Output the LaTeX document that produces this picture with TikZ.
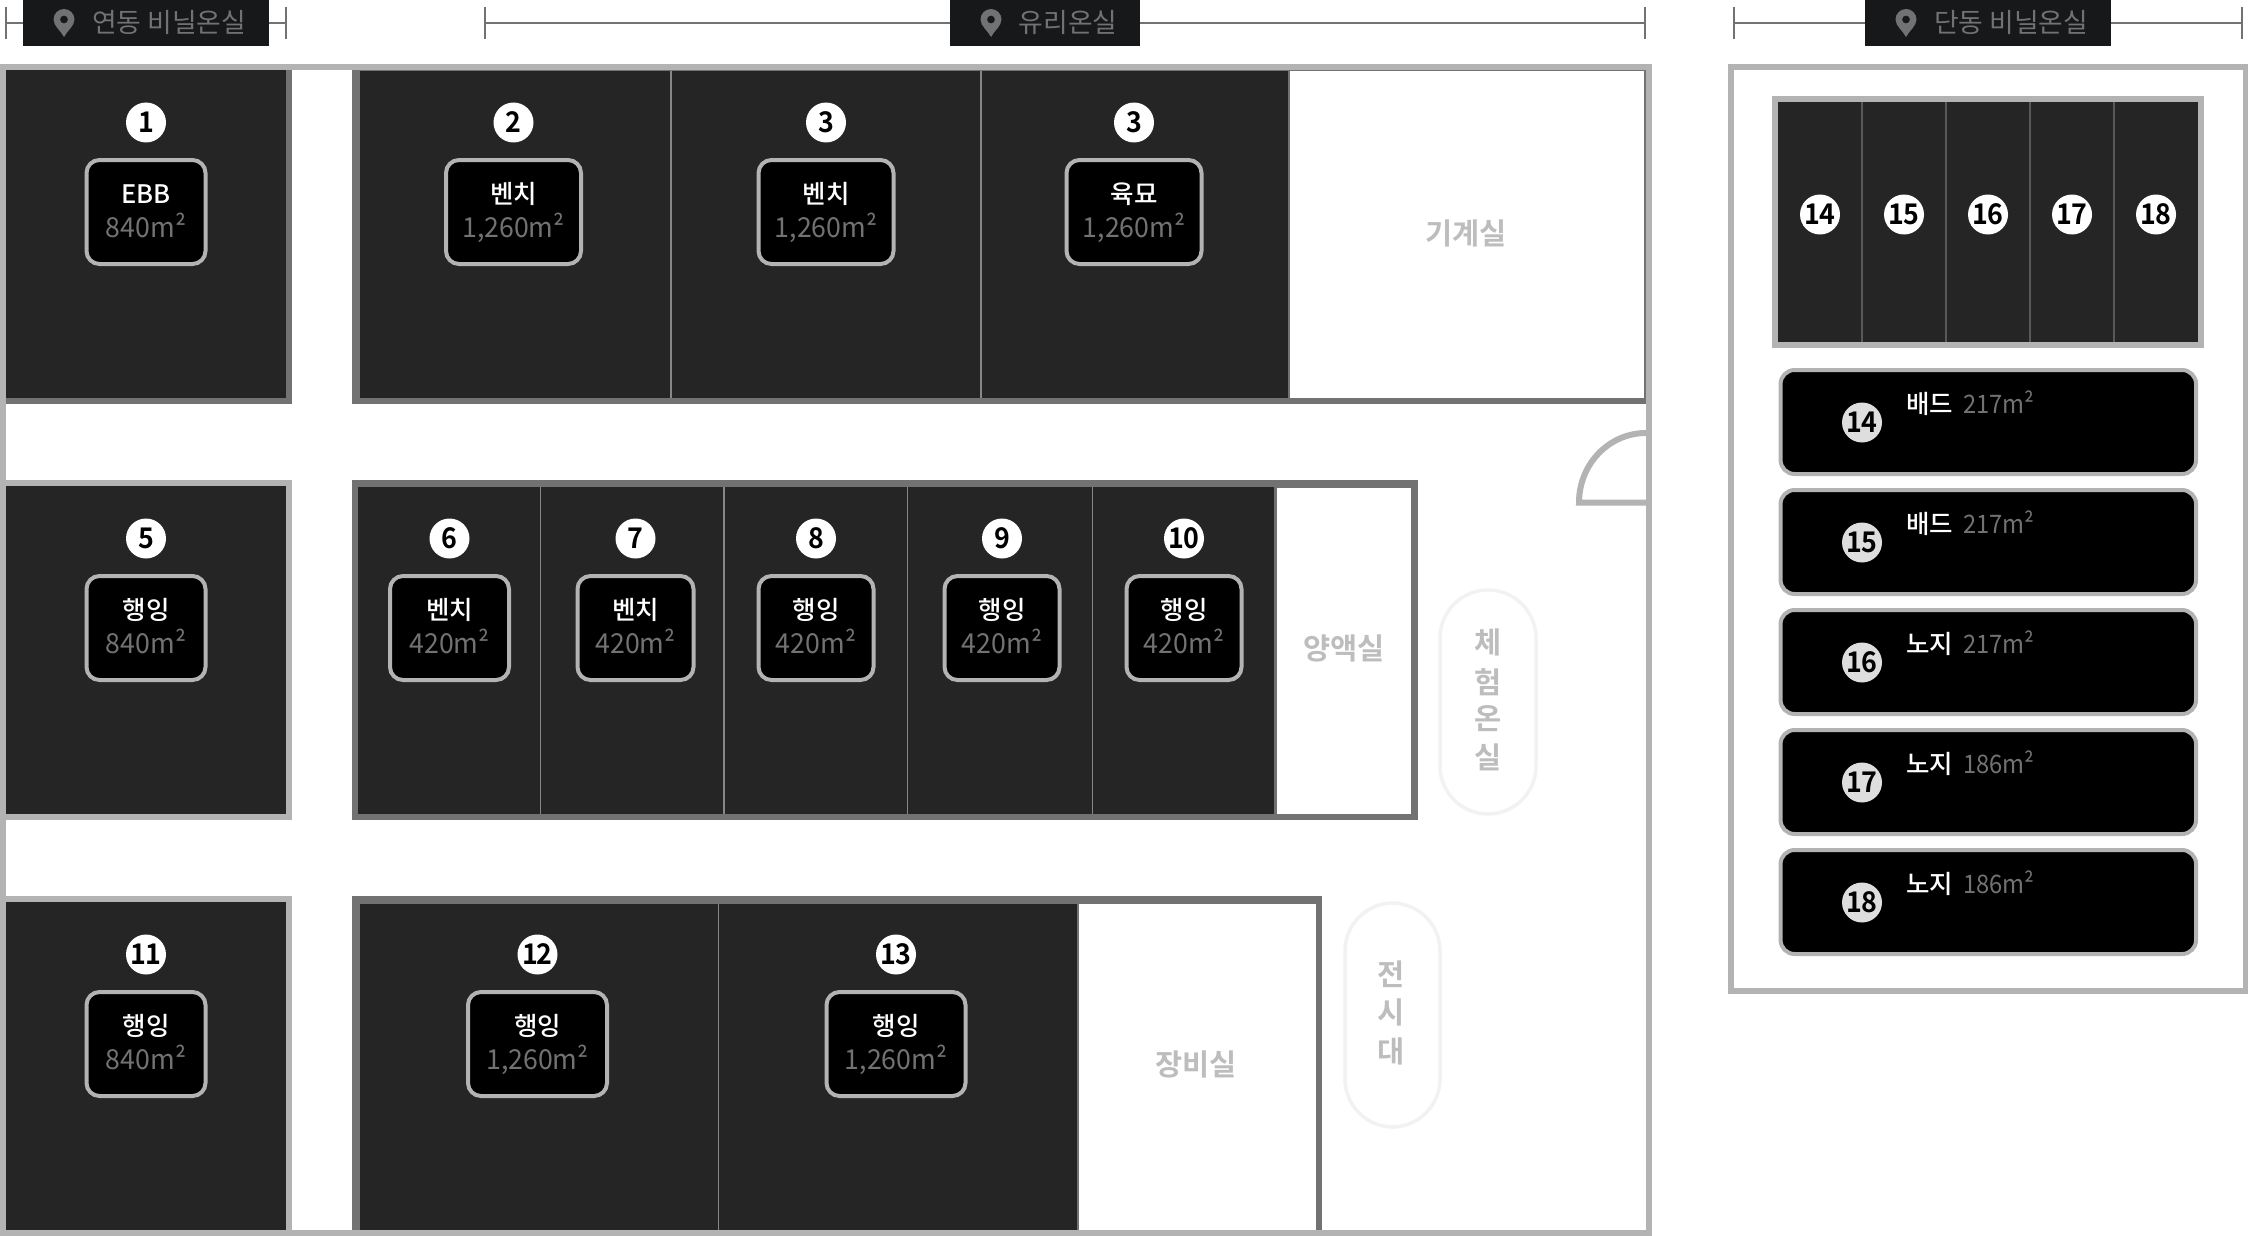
\documentclass[tikz,border=0pt]{standalone}
\usepackage{fontspec}
\setmainfont{Noto Sans CJK KR}
\newfontfamily\medfont{Noto Sans CJK KR Medium}
\newfontfamily\numfont[LetterSpace=-4,FakeStretch=0.94]{Noto Sans CJK KR Bold}
\newfontfamily\areafont[FakeStretch=0.97]{Noto Sans CJK KR}
\newfontfamily\cardfont[FakeStretch=0.93]{Noto Sans CJK KR}
\newfontfamily\boldfont{Noto Sans CJK KR Bold}
\definecolor{wall}{HTML}{B3B3B3}
\definecolor{edge}{HTML}{727272}
\definecolor{room}{HTML}{252525}
\definecolor{tagbg}{HTML}{17181A}
\definecolor{roomtext}{HTML}{BDBDBD}
\tikzset{
  x=1pt,y=-1pt,
  badgebox/.style={draw=wall,line width=4pt,fill=black,rounded corners=13pt,inner sep=0pt},
  cardbox/.style={draw=wall,line width=4pt,fill=black,rounded corners=14pt},
  numdisc/.style={circle,fill=white,text=black,minimum size=40pt,inner sep=0pt,font=\fontsize{28.5}{29}\numfont},
  carddisc/.style={numdisc,fill=black!13},
  croplabel/.style={anchor=base,text=white,inner sep=0pt,font=\fontsize{25.5}{26}\medfont},
  arealabel/.style={anchor=base,text=edge,inner sep=0pt,font=\fontsize{27.5}{28}\areafont},
  roomlabel/.style={text=roomtext,inner sep=0pt,font=\fontsize{29.5}{30}\boldfont},
  taglabel/.style={text=edge,inner sep=0pt,font=\fontsize{26.8}{27}\selectfont},
  partition/.style={draw=edge!85!white,line width=1.5pt},
  pill/.style={draw=black!5,line width=3.5pt,fill=white,rounded corners=48pt},
  rule/.style={draw=edge,line width=2pt},
}
% id, centre x, half width of badge, row offset, number, crop, area
\newcommand{\cropunit}[7]{%
  \node[numdisc] (n#1) at (#2,{#4+122.5}) {#5};
  \node[badgebox,minimum width={(2*#3-4)*1pt},minimum height=104pt] (b#1) at (#2,{#4+212}) {};
  \node[croplabel] (c#1) at (#2,{#4+203}) {#6};
  \node[arealabel] (a#1) at (#2,{#4+237}) {#7};
}
% id, top y, number, crop, area
\newcommand{\cardunit}[5]{%
  \node[cardbox,minimum width=415.5pt,minimum height=104pt,inner sep=0pt] (k#1) at (1988.3,{#2+54}) {};
  \node[carddisc] (m#1) at (1862,{#2+54.5}) {#3};
  \node[croplabel,anchor=base west] (p#1) at (1906,{#2+45.5}) {#4};
  \node[arealabel,anchor=base west,font=\fontsize{25.5}{26}\cardfont] (q#1) at (1963,{#2+45}) {#5};
}
% id, left tick x, right tick x, tag left, tag right, pin x, text x, text
\newcommand{\headtag}[8]{%
  \coordinate (tl#1) at (#2,23); \coordinate (tr#1) at (#3,23);
  \draw[rule] (tl#1) -- (tr#1);
  \draw[rule] (#2,7) -- (#2,39);
  \draw[rule] (#3,7) -- (#3,39);
  \fill[tagbg] (#4,0) rectangle (#5,46);
  \fill[edge,even odd rule] (#6,37) .. controls ({#6-3},31) and ({#6-10.5},26) .. ({#6-10.5},19.5)
    .. controls ({#6-10.5},13.7) and ({#6-5.8},9) .. (#6,9)
    .. controls ({#6+5.8},9) and ({#6+10.5},13.7) .. ({#6+10.5},19.5)
    .. controls ({#6+10.5},26) and ({#6+3},31) .. (#6,37) -- cycle
    ({#6+4},19.5) .. controls ({#6+4},21.7) and ({#6+2.2},23.5) .. (#6,23.5)
    .. controls ({#6-2.2},23.5) and ({#6-4},21.7) .. ({#6-4},19.5)
    .. controls ({#6-4},17.3) and ({#6-2.2},15.5) .. (#6,15.5)
    .. controls ({#6+2.2},15.5) and ({#6+4},17.3) .. ({#6+4},19.5) -- cycle;
  \node[taglabel] (t#1) at (#7,22) {#8};
}
\begin{document}
\begin{tikzpicture}
\useasboundingbox (0,0) rectangle (2248,1236);
\fill[white] (0,0) rectangle (2248,1236);
% header tags
\headtag{a}{6}{286}{23}{269}{64}{169}{연동 비닐온실}
\headtag{b}{485}{1645}{950}{1140}{991}{1068}{유리온실}
\headtag{c}{1734}{2242}{1865}{2111}{1906}{2011}{단동 비닐온실}
% main building wall
\fill[wall] (0,64) rectangle (1652,1236);
\fill[white] (6,70) rectangle (1646,1230);
% door
\fill[white] (1576,433) rectangle (1646,502);
\draw[wall,line width=6pt] (1646,502.5) -- (1579,502.5) .. controls (1579,464) and (1609,433) .. (1646,433);
% left column
\fill[edge] (6,70) rectangle (292,404);
\fill[room] (6,70) rectangle (286,398);
\fill[wall] (0,480) rectangle (292,820);
\fill[room] (6,486) rectangle (286,814);
\fill[wall] (0,896) rectangle (292,1236);
\fill[room] (6,902) rectangle (286,1230);
% row 1
\fill[edge] (352,70) rectangle (1646,404);
\fill[room] (359.5,71) rectangle (1288,397.5);
\fill[white] (1290,71.5) rectangle (1644,398);
\draw[partition] (671,71) -- (671,397.5);
\draw[partition] (981,71) -- (981,397.5);
% row 2
\fill[edge] (352,480) rectangle (1418,820);
\fill[room] (358,487) rectangle (1274,813.5);
\fill[white] (1277,487.5) rectangle (1411,814);
\foreach \dx in {540.5,724,907.5,1092.5} \draw[partition] (\dx,487) -- (\dx,813.5);
% row 3
\fill[edge] (352,896) rectangle (1322,1230);
\fill[room] (360,904) rectangle (1077,1230);
\fill[white] (1079,904) rectangle (1316,1230);
\draw[partition] (718.5,904) -- (718.5,1230);
\fill[wall] (0,1230) rectangle (1652,1236);
% rooms
\node[roomlabel] (r1) at (1466,233) {기계실};
\node[roomlabel] (r2) at (1344,648) {양액실};
\node[roomlabel] (r3) at (1196,1064) {장비실};
% pills
\draw[pill] (1440,590) rectangle (1536,814);
\draw[pill] (1345,903) rectangle (1440,1127);
\foreach \ty/\tx/\nm in {642/체/e1,682/험/e2,719/온/e3,757/실/e4} \node[roomlabel] (\nm) at (1488,\ty) {\tx};
\foreach \ty/\tx/\nm in {974/전/d1,1012/시/d2,1051/대/d3} \node[roomlabel] (\nm) at (1391.5,\ty) {\tx};
% units
\cropunit{1}{146}{61.5}{0}{1}{EBB}{840m²}
\cropunit{2}{513.5}{69.5}{0}{2}{벤치}{1,260m²}
\cropunit{3}{826}{69.5}{0}{3}{벤치}{1,260m²}
\cropunit{4}{1134}{69.5}{0}{3}{육묘}{1,260m²}
\cropunit{5}{146}{61.5}{416}{5}{행잉}{840m²}
\cropunit{6}{449.5}{61.5}{416}{6}{벤치}{420m²}
\cropunit{7}{635.5}{60}{416}{7}{벤치}{420m²}
\cropunit{8}{816}{59.5}{416}{8}{행잉}{420m²}
\cropunit{9}{1002}{59.5}{416}{9}{행잉}{420m²}
\cropunit{10}{1184}{59.5}{416}{10}{행잉}{420m²}
\cropunit{11}{146}{61.5}{832}{11}{행잉}{840m²}
\cropunit{12}{537.5}{71.5}{832}{12}{행잉}{1,260m²}
\cropunit{13}{896}{71.5}{832}{13}{행잉}{1,260m²}
% single-span building
\fill[wall] (1728,64) rectangle (2248,994);
\fill[white] (1734,70) rectangle (2242.5,988);
\fill[wall] (1772,96) rectangle (2204,348);
\fill[room] (1778,102) rectangle (2198,342);
\foreach \dx in {1862,1946,2030,2114} \draw[draw=black!65,line width=1.5pt] (\dx,102) -- (\dx,342);
\foreach \dx/\num in {1820/14,1904/15,1988/16,2072/17,2156/18} \node[numdisc] (s\num) at (\dx,214.5) {\num};
\cardunit{14}{368}{14}{배드}{217m²}
\cardunit{15}{488}{15}{배드}{217m²}
\cardunit{16}{608}{16}{노지}{217m²}
\cardunit{17}{728}{17}{노지}{186m²}
\cardunit{18}{848}{18}{노지}{186m²}
\end{tikzpicture}
\end{document}
